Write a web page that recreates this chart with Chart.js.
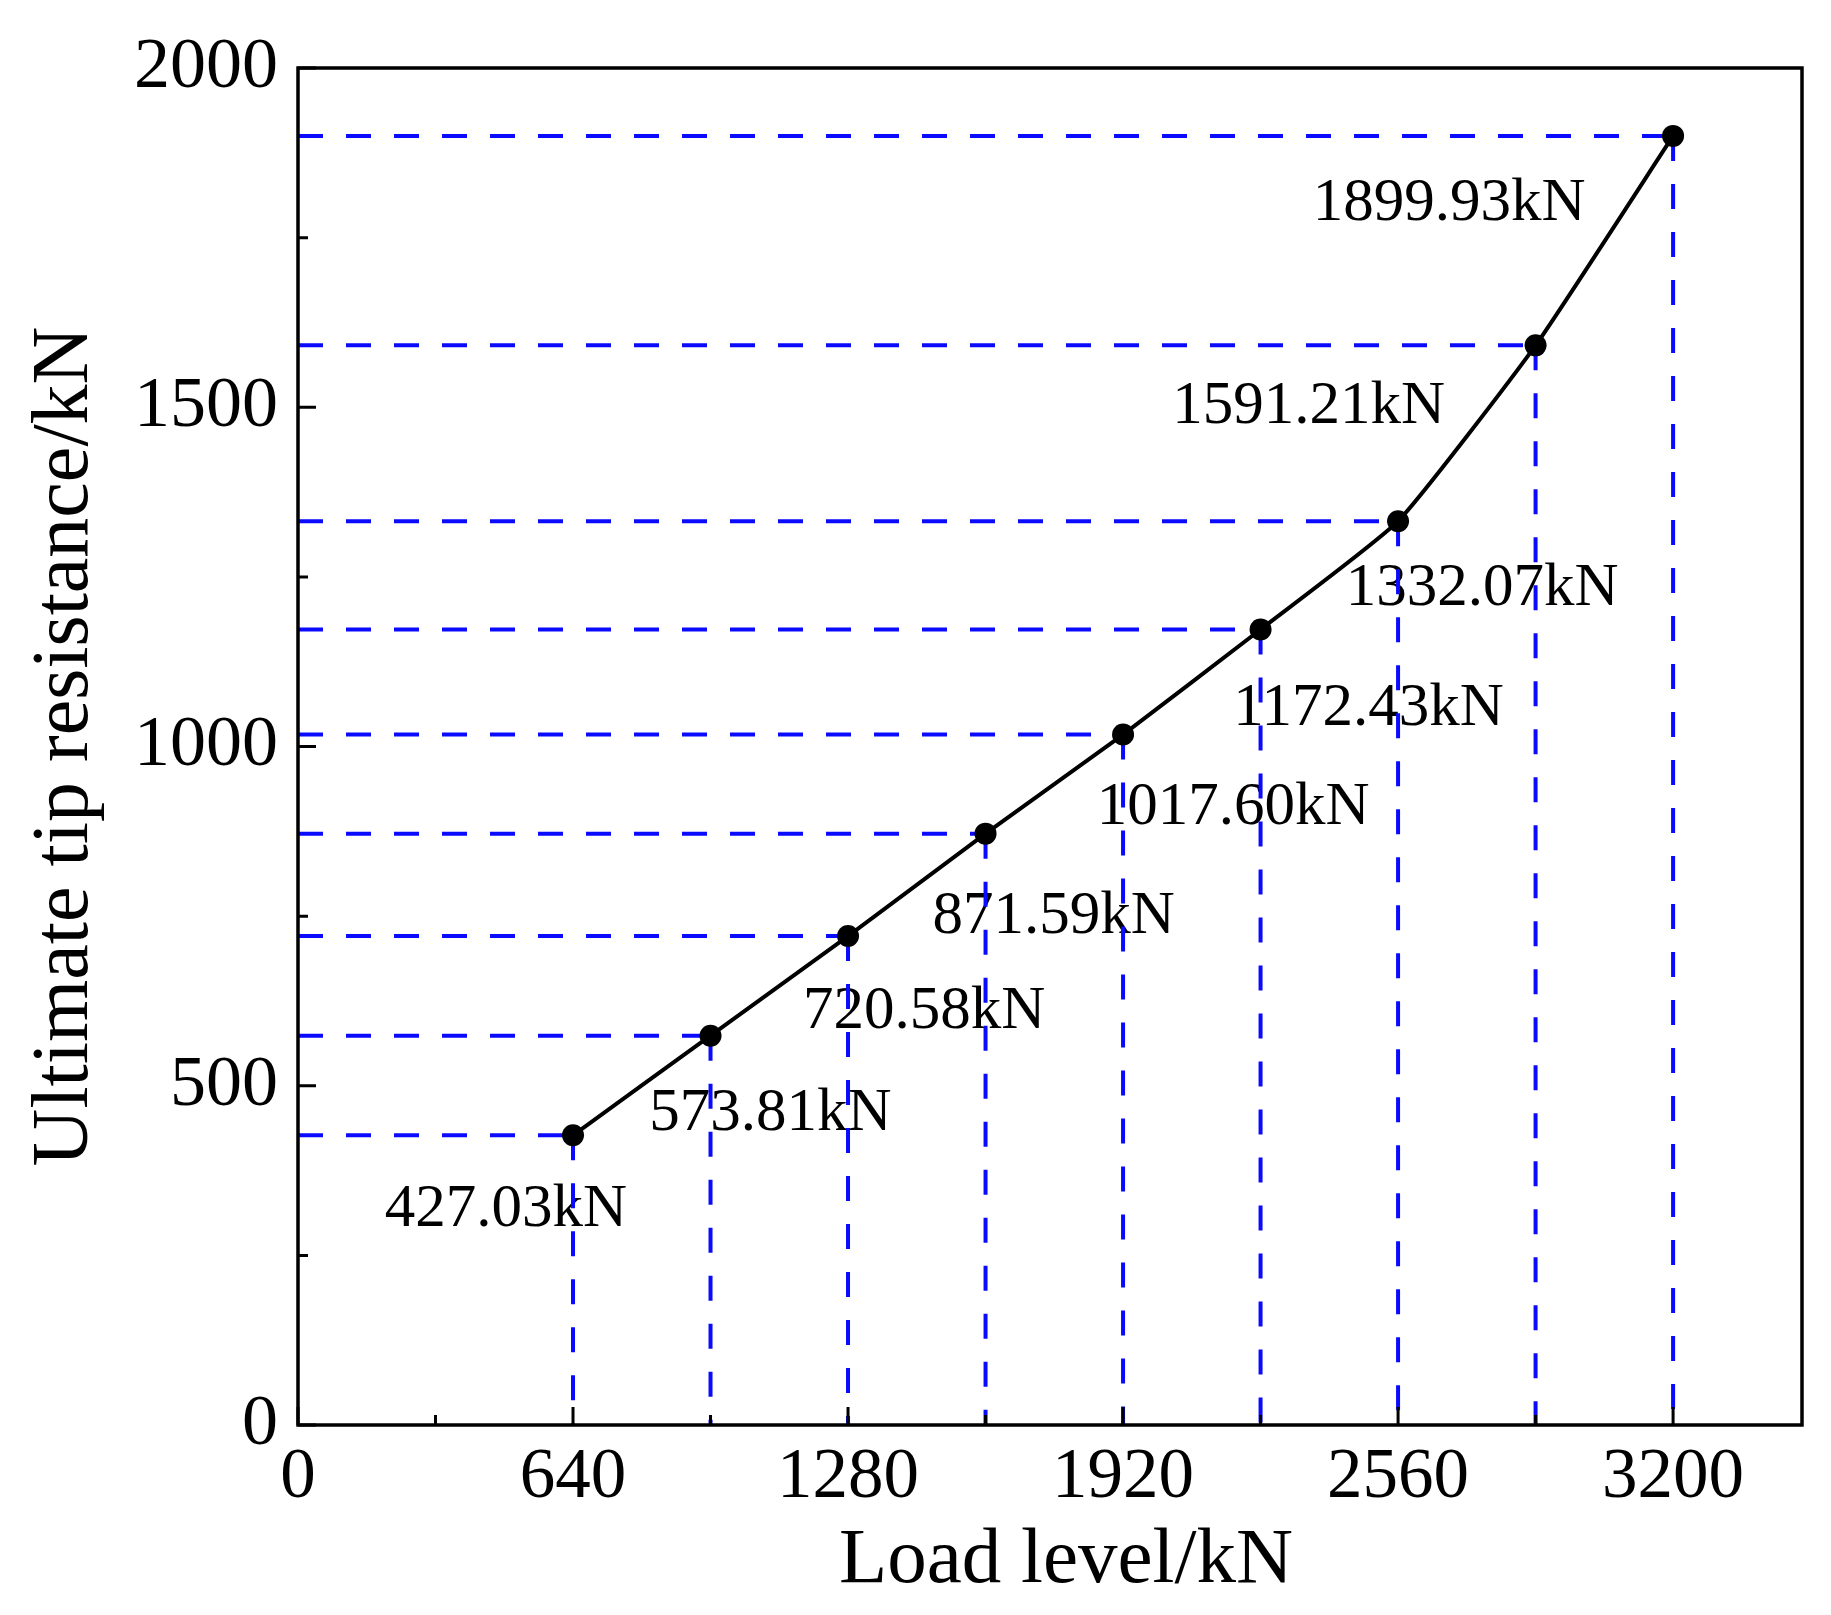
<!DOCTYPE html>
<html><head><meta charset="utf-8">
<script src="https://cdn.jsdelivr.net/npm/chart.js@4.4.0/dist/chart.umd.min.js"></script>
<style>html,body{margin:0;padding:0;background:#fff;} #wrap{width:1831px;height:1615px;position:relative;}</style>
</head><body><div id="wrap"><canvas id="c" width="1831" height="1615"></canvas></div>
<script>
const loadLevels = [640, 960, 1280, 1600, 1920, 2240, 2560, 2880, 3200];
const tipResistance = [427.03, 573.81, 720.58, 871.59, 1017.60, 1172.43, 1332.07, 1591.21, 1899.93];
const xTickValues = [0, 640, 1280, 1920, 2560, 3200];
const yTickValues = [0, 500, 1000, 1500, 2000];
const xMinorTicks = [320, 960, 1600, 2240, 2880];
const yMinorTicks = [250, 750, 1250, 1750];
const xTitle = 'Load level/kN';
const yTitle = 'Ultimate tip resistance/kN';

// label placement relative to each point, in pixels: [dx, dy]
const labelOffsets = [[-67,91],[60,94],[76,92],[68,99],[110,89],[108,95],[84,84],[-227,78],[-224,84]];

const FONT = "'Liberation Serif', 'Times New Roman', serif";
const BLUE = '#0a0aff';

const mainData = loadLevels.map((x, i) => ({x, y: tipResistance[i]}));
const guideSets = [];
loadLevels.forEach((x, i) => {
  const y = tipResistance[i];
  guideSets.push({data: [{x: 0, y}, {x, y}], borderColor: BLUE, borderWidth: 4, borderDash: [25, 23], pointRadius: 0, fill: false, tension: 0});
  guideSets.push({data: [{x, y}, {x, y: 0}], borderColor: BLUE, borderWidth: 4, borderDash: [25, 23], pointRadius: 0, fill: false, tension: 0});
});

const labelPlugin = {
  id: 'pointLabels',
  beforeDatasetsDraw(chart) {
    const ctx = chart.ctx, xs = chart.scales.x, ys = chart.scales.y;
    ctx.save();
    ctx.font = '61px ' + FONT;
    ctx.fillStyle = '#000';
    ctx.textAlign = 'center';
    ctx.textBaseline = 'alphabetic';
    loadLevels.forEach((x, i) => {
      const px = xs.getPixelForValue(x), py = ys.getPixelForValue(tipResistance[i]);
      ctx.fillText(tipResistance[i].toFixed(2) + 'kN', px + labelOffsets[i][0], py + labelOffsets[i][1]);
    });
    // x axis title
    const a = chart.chartArea;
    ctx.font = '79px ' + FONT;
    ctx.fillText(xTitle, (a.left + a.right) / 2 + 16, 1582);
    ctx.restore();
  }
};

const framePlugin = {
  id: 'frame',
  afterDraw(chart) {
    const ctx = chart.ctx, a = chart.chartArea, xs = chart.scales.x, ys = chart.scales.y;
    ctx.save();
    ctx.strokeStyle = '#000';
    ctx.lineWidth = 3.5;
    ctx.strokeRect(a.left, a.top, a.right - a.left, a.bottom - a.top);
    ctx.lineWidth = 3;
    ctx.beginPath();
    xTickValues.forEach(v => { const p = xs.getPixelForValue(v); ctx.moveTo(p, a.bottom); ctx.lineTo(p, a.bottom - 18); });
    xMinorTicks.forEach(v => { const p = xs.getPixelForValue(v); ctx.moveTo(p, a.bottom); ctx.lineTo(p, a.bottom - 10); });
    yTickValues.forEach(v => { const p = ys.getPixelForValue(v); ctx.moveTo(a.left, p); ctx.lineTo(a.left + 18, p); });
    yMinorTicks.forEach(v => { const p = ys.getPixelForValue(v); ctx.moveTo(a.left, p); ctx.lineTo(a.left + 10, p); });
    ctx.stroke();
    ctx.restore();
  }
};

new Chart(document.getElementById('c'), {
  type: 'line',
  data: {
    datasets: [
      {data: mainData, borderColor: '#000', borderWidth: 4, pointRadius: 11, pointBackgroundColor: '#000', pointBorderColor: '#000', pointBorderWidth: 0, tension: 0.15, fill: false},
      ...guideSets
    ]
  },
  options: {
    responsive: false,
    animation: false,
    layout: {padding: {left: 0, top: 68, right: 29, bottom: 0}},
    plugins: {legend: {display: false}, tooltip: {enabled: false}},
    scales: {
      x: {
        type: 'linear', min: 0, max: 3500,
        grid: {display: false, drawTicks: false},
        border: {display: false},
        afterBuildTicks: s => { s.ticks = xTickValues.map(v => ({value: v})); },
        afterFit: s => { s.height = 190; },
        ticks: {color: '#000', font: {family: FONT, size: 71}, padding: 11, maxRotation: 0, autoSkip: false, callback: v => String(v)},
        title: {display: false}
      },
      y: {
        type: 'linear', min: 0, max: 2000,
        grid: {display: false, drawTicks: false},
        border: {display: false},
        afterBuildTicks: s => { s.ticks = yTickValues.map(v => ({value: v})); },
        afterFit: s => { s.width = 298; },
        ticks: {color: '#000', font: {family: FONT, size: 72}, padding: 20, autoSkip: false, callback: v => String(v)},
        title: {display: true, text: yTitle, color: '#000', font: {family: FONT, size: 80}, padding: {top: 18, bottom: 0}}
      }
    }
  },
  plugins: [labelPlugin, framePlugin]
});
</script>
</body></html>
